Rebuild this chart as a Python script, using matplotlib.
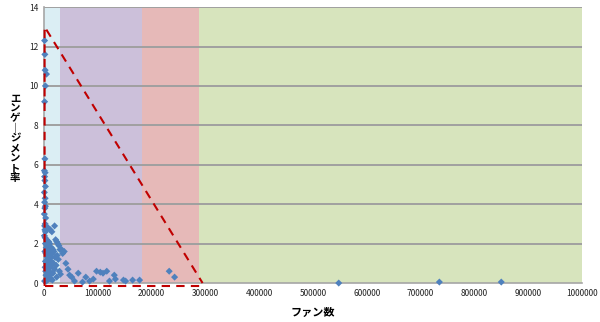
import matplotlib.pyplot as plt
from matplotlib.patches import Rectangle

plt.rcParams['font.family'] = ['Noto Sans CJK JP', 'DejaVu Sans']

# fans vs engagement rate
fans = [1500, 2000, 2500, 3000, 5000, 1500, 2000, 1000, 2500, 1500, 2000, 3000, 1000,
        2500, 1500, 3000, 2000, 1000, 3500, 2500, 1500, 2000, 3000, 4000, 1000, 2500,
        5000, 8000, 12000, 15000, 20000, 3000, 6000, 9000, 11000, 14000, 17000, 22000,
        24000, 2000, 4000, 7000, 10000, 13000, 16000, 19000, 26000, 28000, 30000, 3000,
        5000, 8000, 11000, 14000, 18000, 21000, 25000, 33000, 2500, 6000, 9000, 12000,
        15000, 20000, 23000, 27000, 35000, 38000, 4000, 7000, 10000, 13000, 17000, 29000,
        41000, 45000, 1500, 5000, 9000, 16000, 24000, 31000, 48000, 52000, 57000, 64000,
        72000, 78000, 85000, 92000, 98000, 105000, 110000, 117000, 122000, 131000, 133000,
        148000, 152000, 165000, 178000, 233000, 243000, 548000, 735000, 850000,
        3500, 6500, 8500, 10500, 12500, 4500, 7500, 9500, 11500, 5500, 8000, 14500]
rate = [12.3, 11.6, 10.8, 10.0, 10.6, 9.2, 6.3, 5.7, 5.6, 5.4, 5.2, 4.9, 4.6,
        4.3, 4.1, 3.9, 3.8, 3.5, 3.3, 3.0, 2.9, 2.7, 2.6, 2.8, 2.4, 2.3,
        2.2, 2.8, 2.7, 2.6, 2.9, 2.0, 1.9, 2.1, 2.0, 1.8, 1.7, 2.2,
        2.1, 1.6, 1.5, 1.4, 1.7, 1.3, 1.5, 1.6, 2.0, 1.9, 1.7, 1.1,
        1.0, 1.2, 0.9, 1.1, 1.0, 1.3, 1.4, 1.7, 0.8, 0.7, 0.6, 0.8,
        0.5, 0.7, 0.9, 1.2, 1.5, 1.6, 0.4, 0.3, 0.4, 0.2, 0.5, 0.6,
        1.0, 0.7, 0.1, 0.1, 0.2, 0.15, 0.3, 0.45, 0.4, 0.3, 0.1, 0.5,
        0.05, 0.3, 0.1, 0.2, 0.6, 0.55, 0.5, 0.6, 0.1, 0.4, 0.2,
        0.15, 0.1, 0.15, 0.15, 0.6, 0.3, 0.0, 0.05, 0.05,
        0.6, 1.3, 0.35, 1.1, 0.25, 1.8, 0.9, 0.5, 1.4, 0.2, 1.6, 0.9]

# background bands (fan-count ranges)
bands = [(0, 30000), (30000, 182000), (182000, 288000), (288000, 1000000)]
band_colors = ['#dbeef4', '#ccc0da', '#e6b9b8', '#d7e4bd']

# hand-drawn dashed triangle
tri_x = [1500, 1500, 295000]
tri_y = [-0.15, 13.0, 0.0]

fig = plt.figure(figsize=(6.0, 3.22), dpi=100)
ax = fig.add_axes([0.073, 0.121, 0.897, 0.857])

for (x0, x1), c in zip(bands, band_colors):
    ax.add_patch(Rectangle((x0, 0), x1 - x0, 14, facecolor=c, edgecolor='none', zorder=0))

for yv in range(2, 15, 2):
    ax.axhline(yv, color='#a0a0a0', lw=1.4, zorder=1)

ax.scatter(fans, rate, marker='D', s=13, color='#4f81bd', edgecolors='none', zorder=3, clip_on=False)

ax.plot([tri_x[0], tri_x[1], tri_x[2]], [tri_y[0], tri_y[1], tri_y[2]],
        color='#c00000', lw=1.5, ls=(0, (4, 3)), zorder=4, clip_on=False)
ax.plot([tri_x[0], 300000], [tri_y[0], tri_y[0]],
        color='#c00000', lw=1.5, ls=(0, (4, 3)), zorder=4, clip_on=False)

ax.set_xlim(0, 1000000)
ax.set_ylim(0, 14)
ax.set_xticks(range(0, 1000001, 100000))
ax.set_xticklabels([str(v) for v in range(0, 1000001, 100000)])
ax.set_yticks(range(0, 15, 2))
ax.tick_params(labelsize=6, length=0, pad=4, colors='#222222')

for s in ['top', 'right']:
    ax.spines[s].set_visible(False)
ax.spines['left'].set_color('#a6a6a6')
ax.spines['bottom'].set_color('#a6a6a6')
ax.spines['left'].set_linewidth(1.2)
ax.spines['bottom'].set_linewidth(1.2)

ax.set_xlabel('ファン数', fontsize=8, fontweight='bold', labelpad=6)
fig.text(0.025, 0.57, '\n'.join('エンゲ｜ジメント率'), fontsize=7.5, fontweight='bold',
         ha='center', va='center', linespacing=0.98)

fig.savefig('out.png', dpi=100)
